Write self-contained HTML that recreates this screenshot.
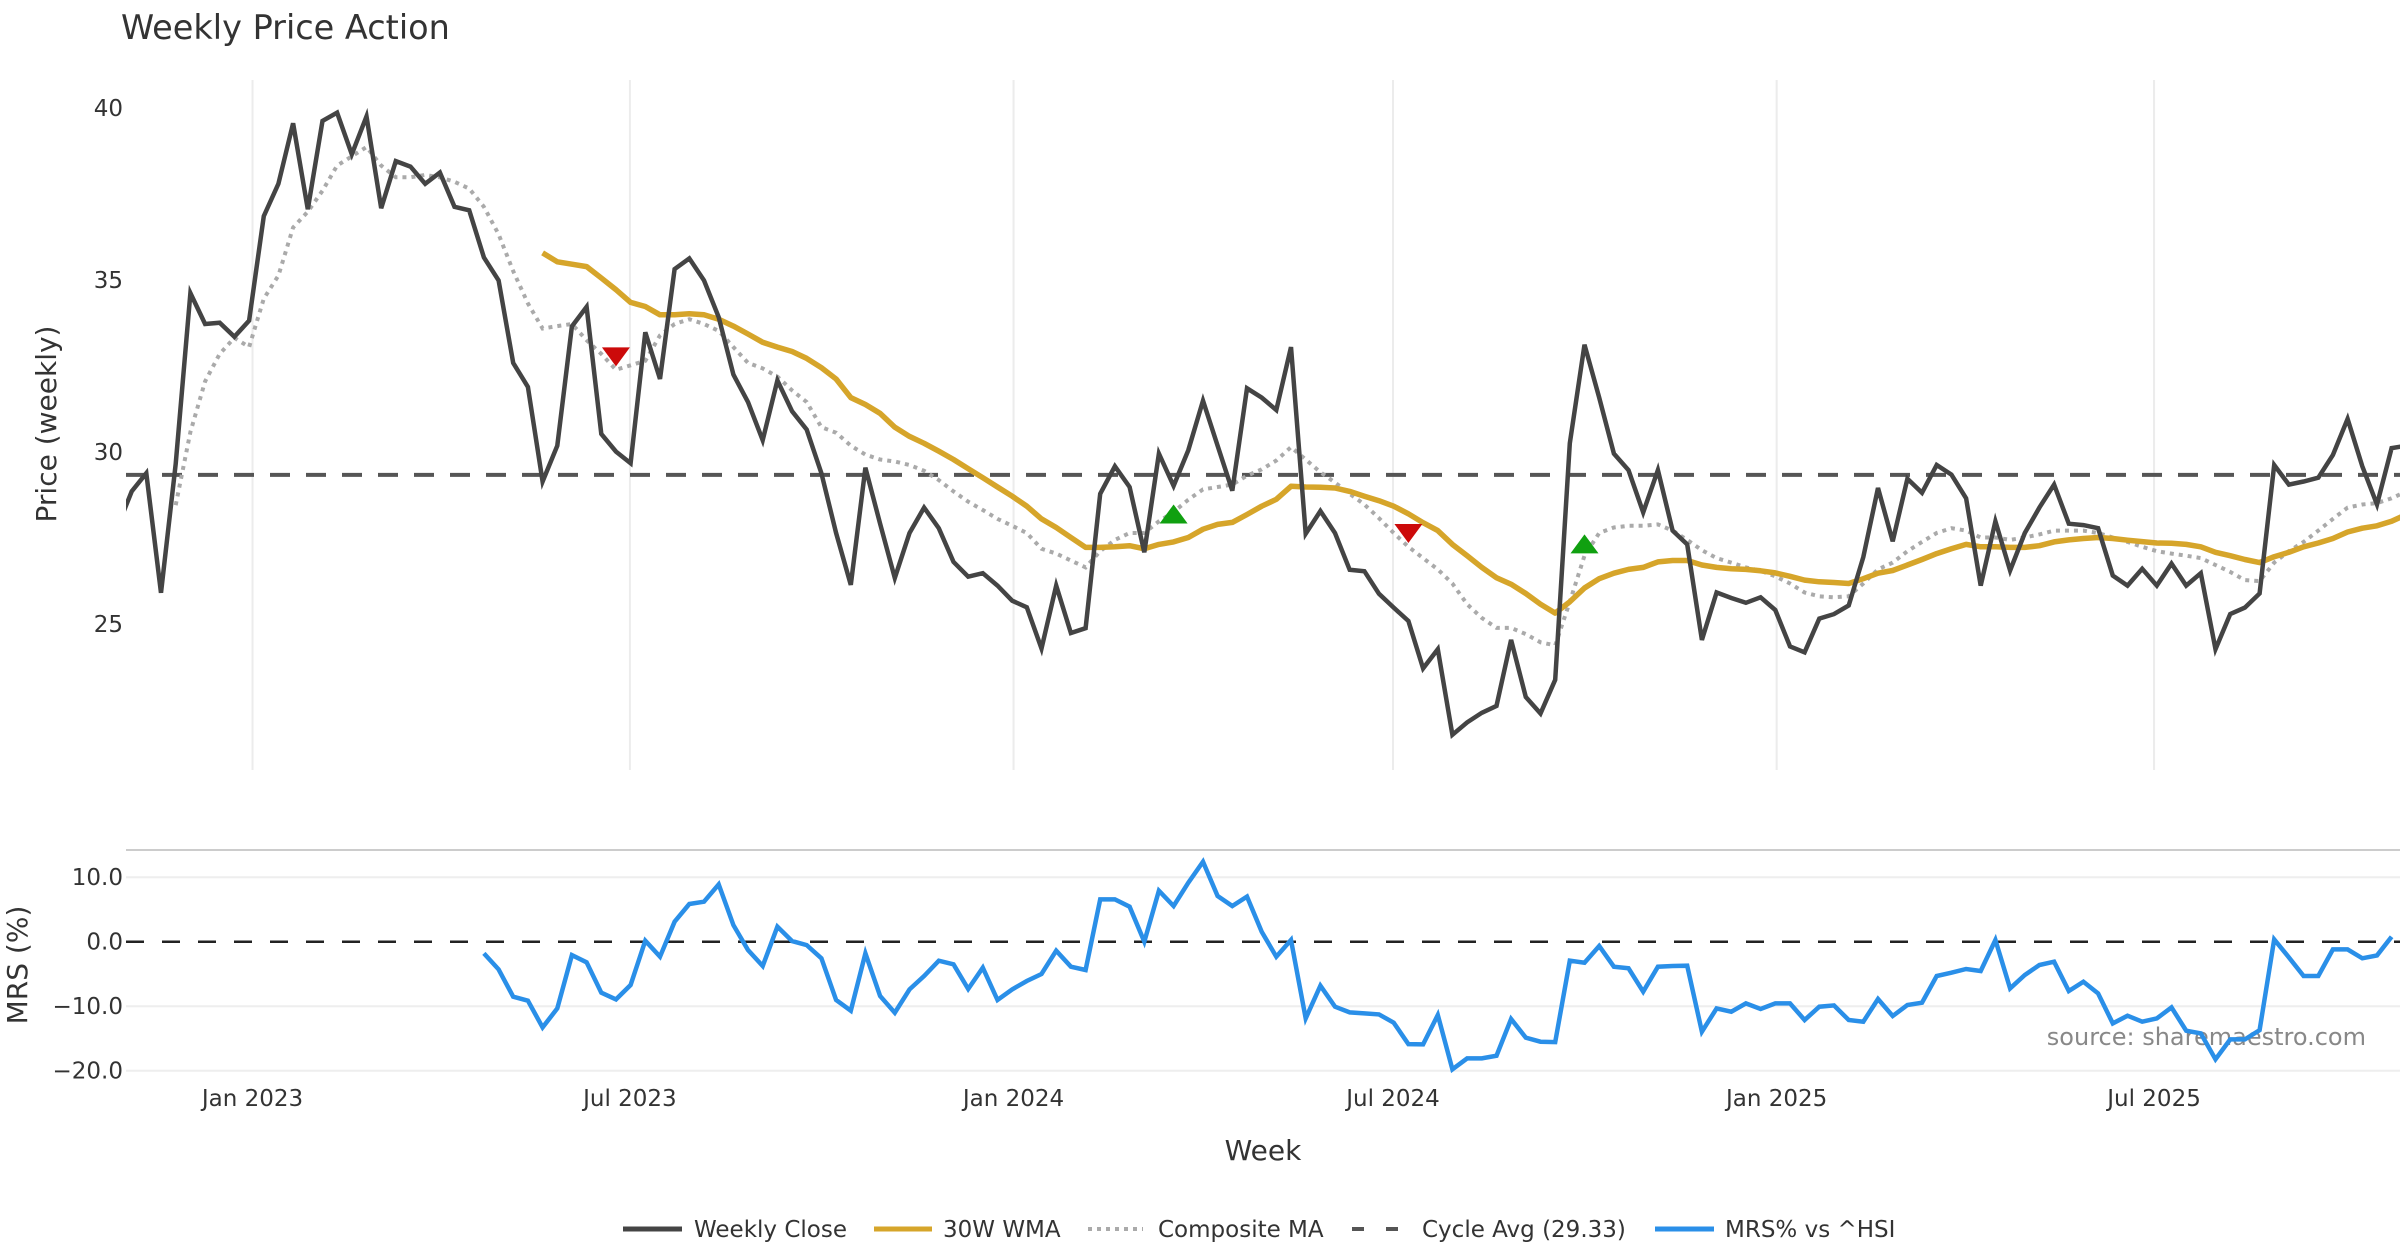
<!DOCTYPE html>
<html><head><meta charset="utf-8"><style>
html,body{margin:0;padding:0;background:#fff;}
svg{display:block;font-family:"DejaVu Sans","Liberation Sans",sans-serif;}
</style></head><body>
<svg id="chart" width="2400" height="1260" viewBox="0 0 2400 1260" xmlns="http://www.w3.org/2000/svg">
<text x="121" y="39" font-size="33.5" fill="#333">Weekly Price Action</text>
<text transform="translate(56,424) rotate(-90)" text-anchor="middle" font-size="28" fill="#333">Price (weekly)</text>
<text transform="translate(27,965) rotate(-90)" text-anchor="middle" font-size="28" fill="#333">MRS (%)</text>
<text x="1263" y="1160" text-anchor="middle" font-size="28" fill="#333">Week</text>
<line x1="126" y1="850" x2="2400" y2="850" stroke="#ccc" stroke-width="2"/>
<text x="2366" y="1045" text-anchor="end" font-size="24" fill="#888">source: sharemaestro.com</text>
<g id="grid"></g><g id="marks"></g>
<g font-size="23" fill="#333">
<g><line x1="623" y1="1229" x2="682" y2="1229" stroke="#444" stroke-width="5"/><text x="694" y="1237">Weekly Close</text></g>
<g><line x1="874" y1="1229" x2="932" y2="1229" stroke="#d6a52a" stroke-width="5"/><text x="943" y="1237">30W WMA</text></g>
<g><line x1="1088" y1="1229" x2="1143" y2="1229" stroke="#aaa" stroke-width="4" stroke-dasharray="4,5"/><text x="1158" y="1237">Composite MA</text></g>
<g><line x1="1352" y1="1229" x2="1406" y2="1229" stroke="#555" stroke-width="4" stroke-dasharray="12,22"/><text x="1422" y="1237">Cycle Avg (29.33)</text></g>
<g><line x1="1655" y1="1229" x2="1714" y2="1229" stroke="#2a8fe8" stroke-width="5"/><text x="1725" y="1237">MRS% vs ^HSI</text></g>
</g>
</svg>
<script>
const startDate = "2022-10-28";
const closeValues = [27.78,28.85,29.38,25.9,29.65,34.62,33.72,33.76,33.35,33.82,36.86,37.8,39.56,37.06,39.63,39.87,38.66,39.76,37.09,38.46,38.3,37.8,38.13,37.13,37.03,35.66,34.99,32.59,31.89,29.14,30.18,33.65,34.22,30.52,30.01,29.67,33.48,32.12,35.32,35.63,34.99,33.92,32.25,31.45,30.34,32.08,31.18,30.65,29.38,27.64,26.13,29.54,27.91,26.33,27.64,28.38,27.78,26.8,26.37,26.47,26.11,25.67,25.48,24.28,26.11,24.73,24.87,28.78,29.58,28.98,27.08,29.95,29.01,30.05,31.49,30.18,28.87,31.85,31.58,31.22,33.05,27.62,28.28,27.64,26.57,26.53,25.87,25.47,25.08,23.7,24.26,21.77,22.13,22.41,22.61,24.53,22.87,22.39,23.37,30.25,33.12,31.58,29.95,29.47,28.24,29.47,27.71,27.31,24.53,25.91,25.75,25.61,25.77,25.4,24.34,24.17,25.15,25.28,25.53,26.94,28.95,27.4,29.22,28.81,29.62,29.34,28.65,26.11,27.98,26.55,27.64,28.38,29.05,27.91,27.87,27.78,26.4,26.11,26.6,26.11,26.75,26.11,26.47,24.26,25.28,25.47,25.88,29.62,29.05,29.14,29.25,29.91,30.96,29.58,28.47,30.11,30.18];
const wmaStart = 29;
const wmaValues = [35.79,35.53,35.46,35.39,35.06,34.72,34.35,34.23,33.99,33.99,34.02,33.99,33.86,33.66,33.43,33.19,33.05,32.92,32.72,32.45,32.12,31.58,31.38,31.12,30.72,30.45,30.25,30.02,29.78,29.51,29.25,28.98,28.71,28.42,28.05,27.8,27.51,27.22,27.22,27.24,27.27,27.18,27.31,27.38,27.51,27.75,27.89,27.95,28.18,28.42,28.62,29.0,28.98,28.97,28.95,28.85,28.71,28.58,28.42,28.2,27.94,27.71,27.31,26.98,26.64,26.34,26.15,25.88,25.57,25.31,25.64,26.04,26.31,26.47,26.58,26.64,26.8,26.84,26.84,26.71,26.64,26.6,26.58,26.54,26.48,26.38,26.27,26.22,26.2,26.17,26.31,26.47,26.55,26.71,26.87,27.04,27.18,27.31,27.24,27.24,27.22,27.22,27.27,27.38,27.44,27.48,27.51,27.48,27.43,27.39,27.35,27.34,27.31,27.24,27.08,26.98,26.87,26.78,26.95,27.08,27.24,27.35,27.48,27.67,27.78,27.85,27.98,28.18];
const compStart = 4;
const compValues = [28.45,30.58,32.05,32.85,33.32,33.05,34.46,35.13,36.53,36.99,37.6,38.33,38.6,38.87,38.33,37.99,37.99,38.06,37.99,37.86,37.66,37.13,36.33,35.26,34.32,33.59,33.66,33.72,33.25,32.85,32.39,32.52,32.65,33.39,33.72,33.86,33.72,33.52,33.05,32.59,32.43,32.19,31.79,31.45,30.72,30.56,30.18,29.92,29.78,29.72,29.62,29.45,29.18,28.85,28.55,28.31,28.05,27.85,27.64,27.18,27.04,26.84,26.64,27.11,27.44,27.64,27.64,27.98,28.25,28.61,28.91,28.98,29.05,29.31,29.49,29.75,30.14,29.78,29.41,29.11,28.78,28.47,28.07,27.64,27.24,26.91,26.58,26.17,25.57,25.17,24.88,24.88,24.7,24.46,24.37,25.64,26.98,27.64,27.8,27.85,27.85,27.89,27.71,27.44,27.14,26.91,26.78,26.64,26.54,26.38,26.17,25.91,25.8,25.77,25.8,26.17,26.58,26.78,27.11,27.38,27.64,27.78,27.71,27.51,27.51,27.44,27.51,27.6,27.71,27.71,27.71,27.64,27.51,27.38,27.24,27.11,27.04,26.98,26.91,26.71,26.51,26.27,26.24,26.78,27.11,27.38,27.71,28.05,28.38,28.47,28.51,28.65,28.85];
const cycleAvg = 29.33;
const mrsStart = 25;
const mrsValues = [-1.81,-4.29,-8.53,-9.15,-13.28,-10.34,-2.07,-3.2,-7.91,-8.94,-6.72,0.16,-2.33,3.1,5.84,6.2,8.89,2.58,-1.29,-3.77,2.33,0.1,-0.52,-2.58,-9.04,-10.7,-1.81,-8.42,-11.01,-7.39,-5.32,-2.95,-3.51,-7.34,-4.03,-9.04,-7.39,-6.1,-5.01,-1.4,-3.88,-4.39,6.56,6.56,5.43,0.0,7.91,5.53,9.15,12.4,7.08,5.53,7.0,1.55,-2.33,0.26,-11.89,-6.82,-10.08,-10.96,-11.11,-11.27,-12.56,-15.87,-15.92,-11.37,-19.79,-18.09,-18.09,-17.67,-11.99,-14.88,-15.5,-15.56,-2.95,-3.26,-0.67,-3.88,-4.13,-7.75,-3.88,-3.77,-3.72,-13.95,-10.34,-10.85,-9.56,-10.44,-9.56,-9.56,-12.14,-10.08,-9.87,-12.14,-12.4,-8.89,-11.52,-9.82,-9.46,-5.32,-4.81,-4.24,-4.55,0.26,-7.24,-5.17,-3.62,-3.1,-7.65,-6.2,-8.01,-12.66,-11.47,-12.4,-11.89,-10.18,-13.8,-14.21,-18.24,-15.14,-15.14,-13.7,0.36,-2.43,-5.32,-5.32,-1.19,-1.19,-2.58,-2.12,0.78];
const signalIdx = [34,72,88,100];
const signalVal = [32.78,28.18,27.64,27.31];
const signalType = ["sell","buy","sell","buy"];
const xTickDates = ["2023-01-01","2023-07-01","2024-01-01","2024-07-01","2025-01-01","2025-07-01"];
const xTickLabels = ["Jan 2023","Jul 2023","Jan 2024","Jul 2024","Jan 2025","Jul 2025"];
const priceTicks = [25,30,35,40];
const mrsTicks = [10,0,-10,-20];
const mrsTickLabels = ["10.0","0.0","\u221210.0","\u221220.0"];

const NS="http://www.w3.org/2000/svg";
const X0=117, PXDAY=2.085, PXWEEK=14.675, RIGHT=2400;
const d0=new Date(startDate+"T00:00:00Z");
function xDate(s){return X0+(new Date(s+"T00:00:00Z")-d0)/86400000*PXDAY;}
function xIdx(i){return X0+i*PXWEEK;}
function yP(v){return 108.2+(40-v)*34.37;}
function yM(v){return 941.7-v*6.45;}
function el(tag,attrs,parent){const e=document.createElementNS(NS,tag);for(const k in attrs)e.setAttribute(k,attrs[k]);parent.appendChild(e);return e;}
const gridG=document.getElementById('grid'), marksG=document.getElementById('marks');
const defsG=el('defs',{},document.getElementById('chart'));
const cp=el('clipPath',{id:'clipTop'},defsG);el('rect',{x:126,y:60,width:2274,height:720},cp);
const cp2=el('clipPath',{id:'clipBot'},defsG);el('rect',{x:126,y:851,width:2274,height:240},cp2);

xTickDates.forEach((d,k)=>{
  const x=xDate(d);
  const g=el('line',{x1:x,y1:80,x2:x,y2:770,stroke:'#ececec','stroke-width':2},gridG);
  
  
  const t=el('text',{x:x,y:1106,'text-anchor':'middle','font-size':23,fill:'#333'},gridG);
  t.textContent=xTickLabels[k];
  
  
});
priceTicks.forEach(v=>{
  const t=el('text',{x:123,y:yP(v)+8,'text-anchor':'end','font-size':23,fill:'#333'},gridG);
  t.textContent=String(v);
  
  
});
mrsTicks.forEach((v,k)=>{
  if(v!==0){
    const g=el('line',{x1:126,y1:yM(v),x2:RIGHT,y2:yM(v),stroke:'#eeeeee','stroke-width':2},gridG);
    
    
  }
  const t=el('text',{x:123,y:yM(v)+8,'text-anchor':'end','font-size':23,fill:'#333'},gridG);
  t.textContent=mrsTickLabels[k];
  
  
});
const zl=el('line',{x1:126,y1:yM(0),x2:RIGHT,y2:yM(0),stroke:'#222','stroke-width':2.5,'stroke-dasharray':'18,18'},marksG);



function pathD(vals,start,yf){return vals.map((v,i)=>(i?'L':'M')+xIdx(start+i).toFixed(1)+','+yf(v).toFixed(1)).join(' ');}
const topG=el('g',{'clip-path':'url(#clipTop)'},marksG);
const cyc=el('line',{x1:126,y1:yP(cycleAvg),x2:RIGHT,y2:yP(cycleAvg),stroke:'#555','stroke-width':4,'stroke-dasharray':'20,16'},topG);


const pc=el('path',{d:pathD(compValues,compStart,yP),fill:'none',stroke:'#aaa','stroke-width':4,'stroke-dasharray':'4,5'},topG);


const pw=el('path',{d:pathD(wmaValues,wmaStart,yP),fill:'none',stroke:'#d6a52a','stroke-width':5.5,'stroke-linejoin':'round'},topG);


const pcl=el('path',{d:pathD(closeValues,0,yP),fill:'none',stroke:'#444','stroke-width':4.5,'stroke-linejoin':'miter'},topG);


signalIdx.forEach((idx,k)=>{
  const x=xIdx(idx), y=yP(signalVal[k]);
  const pts = signalType[k]==='sell' ? `${x-14},${y-9} ${x+14},${y-9} ${x},${y+10}` : `${x-14},${y+9} ${x+14},${y+9} ${x},${y-10}`;
  const m=el('polygon',{points:pts,fill:signalType[k]==='sell'?'#cc0a0a':'#10a010'},topG);
  
  
});
const botG=el('g',{'clip-path':'url(#clipBot)'},marksG);
const pm=el('path',{d:pathD(mrsValues,mrsStart,yM),fill:'none',stroke:'#2a8fe8','stroke-width':4.5,'stroke-linejoin':'miter'},botG);


</script>
</body></html>
